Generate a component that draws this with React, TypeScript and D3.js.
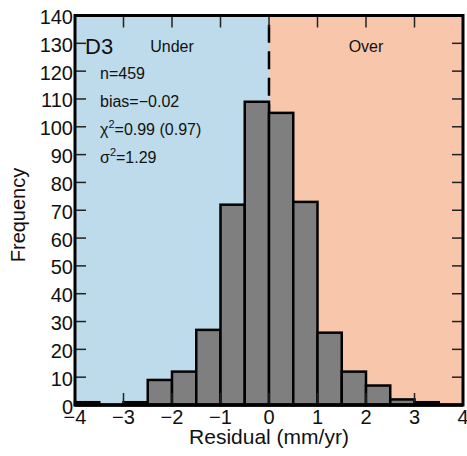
import React from "react";
import * as d3 from "d3";

const binStarts = [-4, -3.5, -3, -2.5, -2, -1.5, -1, -0.5, 0, 0.5, 1, 1.5, 2, 2.5, 3, 3.5];
const counts = [1, 0, 1, 9, 12, 27, 72, 109, 105, 73, 26, 12, 7, 2, 1, 0];
const binWidth = 0.5;
const xTicks = [-4, -3, -2, -1, 0, 1, 2, 3, 4];
const yTicks = [0, 10, 20, 30, 40, 50, 60, 70, 80, 90, 100, 110, 120, 130, 140];
const statLines = ["n=459", "bias=\u22120.02"];

const W = 467;
const H = 456;
const FONT = "'Liberation Sans', Arial, Helvetica, sans-serif";

export default function App() {
  const x = d3.scaleLinear().domain([-4, 4]).range([75, 463]);
  const y = d3.scaleLinear().domain([0, 140]).range([405, 15.5]);
  const [x0, x1] = x.range();
  const [yb, yt] = y.range();
  const fmt = (v: number) => (v < 0 ? "\u2212" + Math.abs(v) : String(v));
  const tickLen = 11;

  return (
    <svg
      width={W}
      height={H}
      style={{ position: "absolute", left: 0, top: 0, background: "#fff" }}
      fontFamily={FONT}
    >
      {/* background halves */}
      <rect x={x0} y={yt} width={x(0) - x0} height={yb - yt} fill="#bddbea" />
      <rect x={x(0)} y={yt} width={x1 - x(0)} height={yb - yt} fill="#f8c6aa" />

      {/* dashed zero line */}
      <line
        x1={x(0)}
        x2={x(0)}
        y1={yt}
        y2={yb}
        stroke="#000"
        strokeWidth={2.5}
        strokeDasharray="18 8.5"
        strokeDashoffset={17.3}
      />

      {/* bars */}
      {binStarts.map((b, i) =>
        counts[i] > 0 ? (
          <rect
            key={i}
            x={x(b)}
            y={y(counts[i])}
            width={x(b + binWidth) - x(b)}
            height={y(0) - y(counts[i])}
            fill="#7f7f7f"
            stroke="#000"
            strokeWidth={2.5}
          />
        ) : null
      )}

      {/* ticks */}
      {xTicks.map((t) => (
        <g key={"xt" + t}>
          <line x1={x(t)} x2={x(t)} y1={yt} y2={yt + tickLen + 1} stroke="#222" strokeWidth={1.5} />
          <line x1={x(t)} x2={x(t)} y1={yb} y2={yb - tickLen - 1} stroke="#222" strokeWidth={1.5} />
        </g>
      ))}
      {yTicks.map((t) => (
        <g key={"yt" + t}>
          <line x1={x0} x2={x0 + tickLen} y1={y(t)} y2={y(t)} stroke="#222" strokeWidth={1.5} />
          <line x1={x1} x2={x1 - tickLen} y1={y(t)} y2={y(t)} stroke="#222" strokeWidth={1.5} />
        </g>
      ))}

      {/* frame */}
      <rect x={x0} y={yt} width={x1 - x0} height={yb - yt} fill="none" stroke="#000" strokeWidth={3} />
      <line x1={x0} x2={x1} y1={yb} y2={yb} stroke="#000" strokeWidth={3.5} />

      {/* tick labels */}
      {yTicks.map((t) => (
        <text key={"yl" + t} x={x0 - 2} y={y(t) + 8.5} fontSize={20} textAnchor="end" fill="#111">
          {t}
        </text>
      ))}
      {xTicks.map((t) => (
        <text key={"xl" + t} x={x(t)} y={yb + 19} fontSize={20} textAnchor="middle" fill="#111">
          {fmt(t)}
        </text>
      ))}

      {/* axis titles */}
      <text x={(x0 + x1) / 2} y={444} fontSize={21} textAnchor="middle" fill="#111">
        Residual (mm/yr)
      </text>
      <text transform="translate(25,215) rotate(-90)" fontSize={20} textAnchor="middle" fill="#111">
        Frequency
      </text>

      {/* annotations */}
      <text x={85} y={54} fontSize={22} fill="#111">D3</text>
      <text x={(x0 + x(0)) / 2} y={52} fontSize={16} textAnchor="middle" fill="#111">Under</text>
      <text x={(x(0) + x1) / 2} y={52} fontSize={16} textAnchor="middle" fill="#111">Over</text>
      {statLines.map((s, i) => (
        <text key={s} x={100} y={79 + i * 28} fontSize={16} fill="#111">
          {s}
        </text>
      ))}
      <text x={100} y={135} fontSize={16} fill="#111">
        {"\u03c7"}
        <tspan fontSize={11} dy={-7}>2</tspan>
        <tspan dy={7}>=0.99 (0.97)</tspan>
      </text>
      <text x={100} y={163} fontSize={16} fill="#111">
        {"\u03c3"}
        <tspan fontSize={11} dy={-7}>2</tspan>
        <tspan dy={7}>=1.29</tspan>
      </text>
    </svg>
  );
}
